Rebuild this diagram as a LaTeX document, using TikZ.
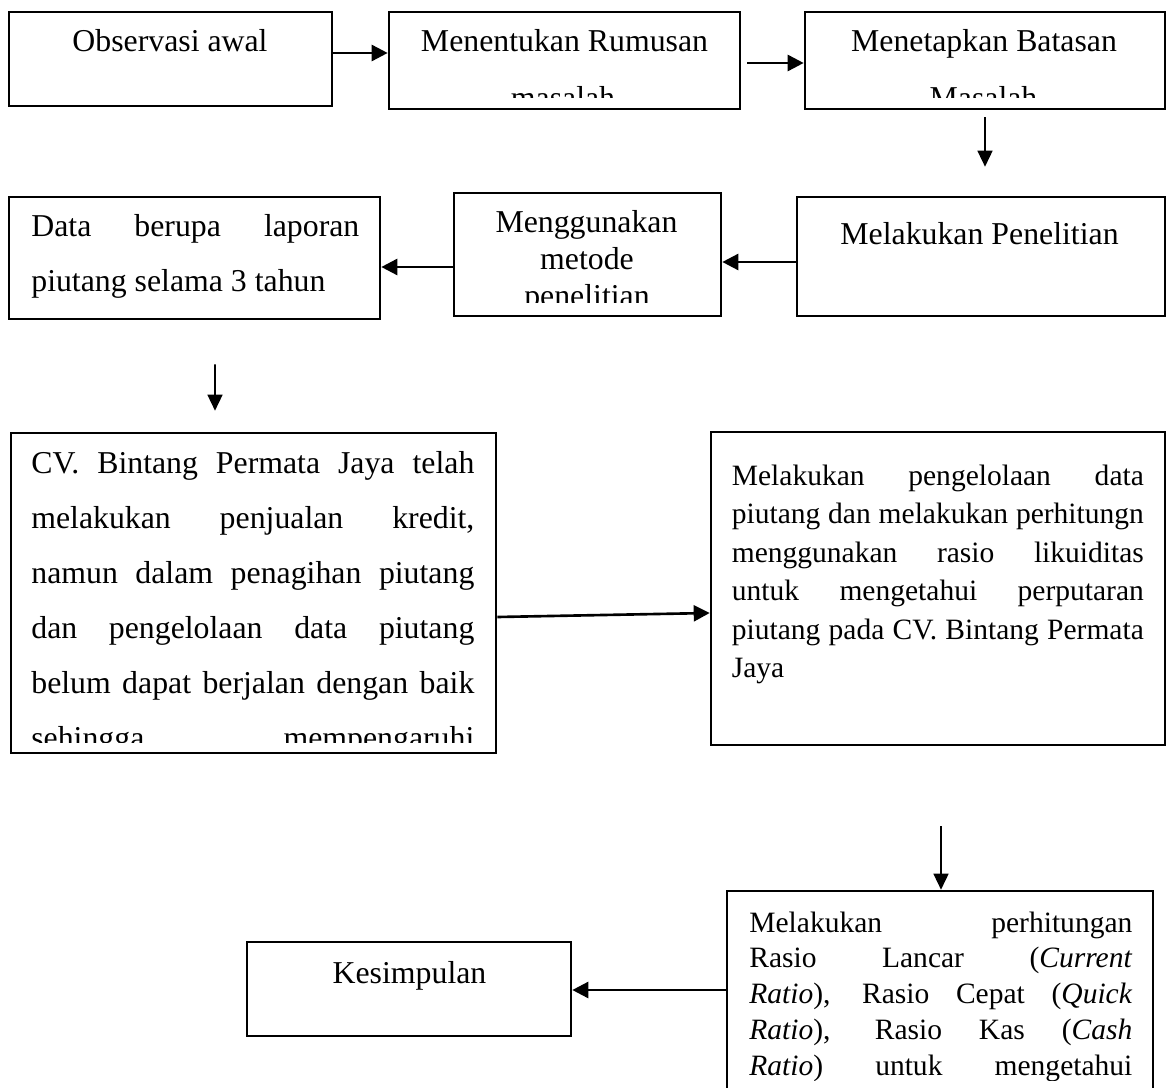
\documentclass[tikz,border=0pt]{standalone}
\usepackage{fontspec}
\setmainfont{Liberation Serif}
\usetikzlibrary{arrows.meta,calc}
\newlength\pxu
\setlength\pxu{0.02cm}
\newcommand\jline[2]{\makebox[#1\pxu][s]{#2}}
\newcommand\bigf{\fontsize{18.1pt}{22pt}\selectfont}
\newcommand\smf{\fontsize{16.8pt}{20pt}\selectfont}
\tikzset{
  box/.style={draw, line width=1.5pt, inner sep=0pt},
  txt/.style={inner sep=0pt, font=\bigf},
  txts/.style={inner sep=0pt, font=\smf},
  arr/.style={-{Triangle[length=0.32cm,width=0.32cm]}, line width=1.5pt},
  arrd/.style={-{Triangle[length=0.32cm,width=0.3cm]}, line width=0.9pt},
}
\begin{document}
\begin{tikzpicture}[x=0.02cm,y=-0.02cm]
\useasboundingbox (0,0) rectangle (1168,1087);
\clip (0,0) rectangle (1168,1087);
% boxes
\node[box, minimum width=323*\pxu, minimum height=94*\pxu] (obs) at (170.5,59) {};
\node[box, minimum width=351*\pxu, minimum height=97*\pxu] (rum) at (564.5,60.5) {};
\node[box, minimum width=360*\pxu, minimum height=97*\pxu] (bat) at (985,60.5) {};
\node[box, minimum width=368*\pxu, minimum height=119*\pxu] (pen) at (981,256.5) {};
\node[box, minimum width=267*\pxu, minimum height=123*\pxu] (met) at (587.5,254.5) {};
\node[box, minimum width=371*\pxu, minimum height=122*\pxu] (dat) at (194.5,258) {};
\node[box, minimum width=485*\pxu, minimum height=320*\pxu] (cv) at (253.5,593) {};
\node[box, minimum width=454*\pxu, minimum height=313*\pxu] (pgl) at (938,588.5) {};
\node[box, minimum width=426*\pxu, minimum height=229*\pxu] (hit) at (940,1005.5) {};
\node[box, minimum width=324*\pxu, minimum height=94*\pxu] (kes) at (409,989) {};
% texts
\node[txt, anchor=base] (tobs) at (170,51.5) {Observasi awal};
\node[txt, anchor=base] (trum1) at (564.5,51.7) {Menentukan Rumusan};
\node[txt, anchor=base] (tbat1) at (984,52) {Menetapkan Batasan};
\begin{scope}
  \clip (389,12) rectangle (740,98);
  \node[txt, anchor=base] (trum2) at (563,109) {masalah};
\end{scope}
\begin{scope}
  \clip (805,12) rectangle (1165,98);
  \node[txt, anchor=base] (tbat2) at (983.5,109) {Masalah};
\end{scope}
\node[txt, anchor=base] (tpen) at (979.5,245) {Melakukan Penelitian};
\node[txt, anchor=base] (tmet1) at (586.5,233) {Menggunakan};
\node[txt, anchor=base] (tmet2) at (587,270) {metode};
\begin{scope}
  \clip (454,193) rectangle (721,303);
  \node[txt, anchor=base] (tmet3) at (587,307) {penelitian};
\end{scope}
\node[txt, anchor=base west] (tdat1) at (31,236.7) {\jline{328}{Data berupa laporan}};
\node[txt, anchor=base west] (tdat2) at (31,292) {piutang selama 3 tahun};
% CV box
\node[txt, anchor=base west] (tcv1) at (31,473) {\jline{443}{CV. Bintang Permata Jaya telah}};
\node[txt, anchor=base west] (tcv2) at (31,528) {\jline{443}{melakukan penjualan kredit,}};
\node[txt, anchor=base west] (tcv3) at (31,583) {\jline{443}{namun dalam penagihan piutang}};
\node[txt, anchor=base west] (tcv4) at (31,638) {\jline{443}{dan pengelolaan data piutang}};
\node[txt, anchor=base west] (tcv5) at (31,693) {\jline{443}{belum dapat berjalan dengan baik}};
\begin{scope}
  \clip (11,433) rectangle (496,742);
  \node[txt, anchor=base west] (tcv6) at (31,748) {\jline{443}{sehingga mempengaruhi}};
\end{scope}
% pengelolaan box
\node[txts, anchor=base west] (tp1) at (731.5,485) {\jline{412}{Melakukan pengelolaan data}};
\node[txts, anchor=base west] (tp2) at (731.5,523.5) {\jline{412}{piutang dan melakukan perhitungn}};
\node[txts, anchor=base west] (tp3) at (731.5,562) {\jline{412}{menggunakan rasio likuiditas}};
\node[txts, anchor=base west] (tp4) at (731.5,600.5) {\jline{412}{untuk mengetahui perputaran}};
\node[txts, anchor=base west] (tp5) at (731.5,639) {\jline{412}{piutang pada CV. Bintang Permata}};
\node[txts, anchor=base west] (tp6) at (731.5,677.5) {Jaya};
% perhitungan box
\node[txts, anchor=base west] (th1) at (749,932) {\jline{383}{Melakukan perhitungan}};
\node[txts, anchor=base west] (th2) at (749,967.8) {\jline{383}{Rasio Lancar (\textit{Current}}};
\node[txts, anchor=base west] (th3) at (749,1003.6) {\jline{383}{\textit{Ratio}), Rasio Cepat (\textit{Quick}}};
\node[txts, anchor=base west] (th4) at (749,1039.4) {\jline{383}{\textit{Ratio}), Rasio Kas (\textit{Cash}}};
\begin{scope}
  \clip (727,891) rectangle (1153,1080);
  \node[txts, anchor=base west] (th5) at (749,1075.2) {\jline{383}{\textit{Ratio}) untuk mengetahui}};
\end{scope}
\node[txt, anchor=base] (tkes) at (409.5,983) {Kesimpulan};
% connectors
\draw[arr] (obs.east |- 0,53) -- (rum.west |- 0,53);
\draw[arr] ($(rum.east |- 0,63)+(6,0)$) -- (bat.west |- 0,63);
\draw[arrd] ($(bat.south)+(0,7)$) -- ($(pen.north)+(4,-29)$);
\draw[arr] (pen.west |- 0,262) -- (met.east |- 0,262);
\draw[arr] (met.west |- 0,267) -- (dat.east |- 0,267);
\draw[arrd] ($(dat.south)+(20.5,44)$) -- ($(cv.north)+(-38.5,-21)$);
\draw[arr] (cv.east |- 0,617) -- (pgl.west |- 0,613);
\draw[arrd] ($(pgl.south)+(3,80)$) -- ($(hit.north)+(1,0)$);
\draw[arr] (hit.west |- 0,990) -- (kes.east |- 0,990);
\end{tikzpicture}
\end{document}
